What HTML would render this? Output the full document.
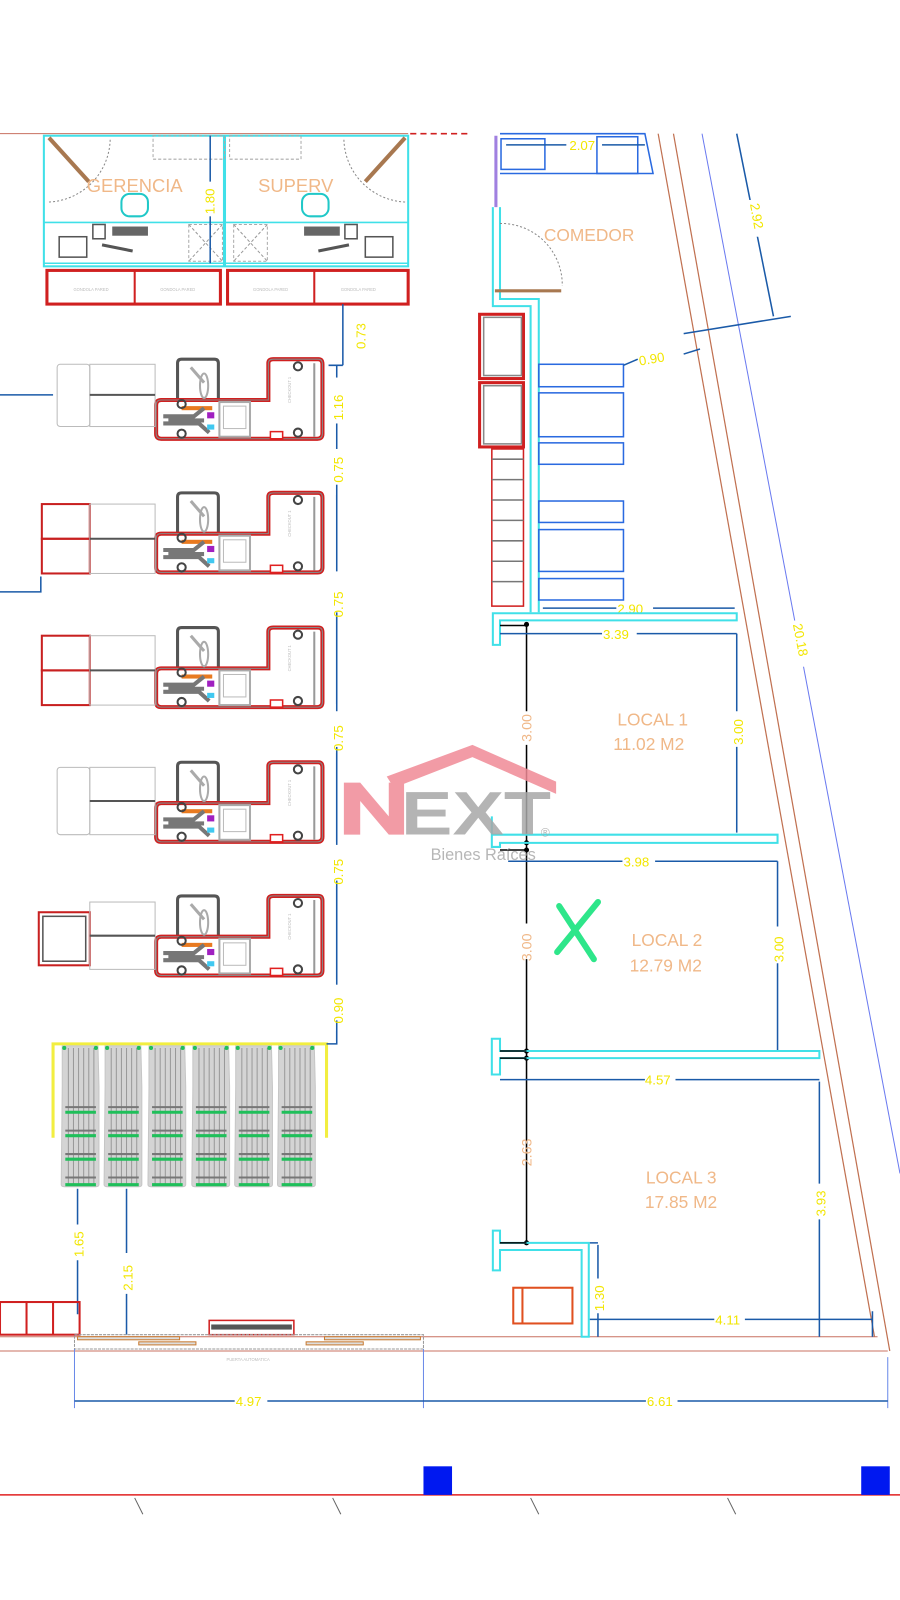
<!DOCTYPE html>
<html><head><meta charset="utf-8"><style>
html,body{margin:0;padding:0;background:#fff;width:900px;height:1600px;overflow:hidden}
svg{display:block}
text{font-family:"Liberation Sans",sans-serif}
.d{fill:#f2e600;font-size:13px}
.o{fill:#f0b888}
.tiny{fill:#bbb;font-size:4px}
</style></head><body>
<svg width="900" height="1600" viewBox="0 0 900 1600" xmlns="http://www.w3.org/2000/svg">
<defs>
<g id="chk">
  <path d="M174 392 V356 Q174 352 178 352 H210 Q214 352 214 356 V392" fill="none" stroke="#555" stroke-width="3"/>
  <path d="M263 392 V356 Q263 352 268 352 H312 Q316 352 316 357 V425 Q316 430 311 430 H158 Q153 430 153 425 V397 Q153 392 158 392 Z" fill="none" stroke="#d02020" stroke-width="4"/>
  <path d="M263 392 V356 Q263 352 268 352 H312 Q316 352 316 357 V425 Q316 430 311 430 H158 Q153 430 153 425 V397 Q153 392 158 392 Z" fill="none" stroke="#888" stroke-width="1"/>
  <line x1="187" y1="360" x2="200" y2="375" stroke="#aaa" stroke-width="3"/>
  <ellipse cx="200" cy="378" rx="4" ry="12" fill="none" stroke="#aaa" stroke-width="2"/>
  <rect x="178" y="398" width="30" height="4" fill="#e87a20"/>
  <path d="M160 408 H190 L200 400 M160 415 H195 L205 424 M165 412 H200" stroke="#777" stroke-width="4" fill="none"/>
  <rect x="203" y="404" width="7" height="6" fill="#a020c0"/>
  <rect x="203" y="416" width="7" height="5" fill="#40c8f0"/>
  <rect x="215" y="394" width="30" height="34" fill="none" stroke="#aaa" stroke-width="2"/>
  <rect x="219" y="398" width="22" height="22" fill="none" stroke="#bbb" stroke-width="1"/>
  <rect x="265" y="423" width="12" height="7" fill="#fff" stroke="#e02020" stroke-width="1.5"/>
  <circle cx="178" cy="396" r="4" fill="none" stroke="#444" stroke-width="2"/>
  <circle cx="178" cy="425" r="4" fill="none" stroke="#444" stroke-width="2"/>
  <circle cx="292" cy="359" r="4" fill="none" stroke="#444" stroke-width="2"/>
  <circle cx="292" cy="424" r="4" fill="none" stroke="#444" stroke-width="2"/>
  <line x1="308" y1="356" x2="308" y2="428" stroke="#999" stroke-width="2"/>
  <text x="0" y="0" class="tiny" transform="translate(285,395) rotate(-90)">CHECKOUT 1</text>
</g>
<g id="cart">
  <path d="M0 0 H35 L36 40 L36 136 Q36 138 33 138 H2 Q-1 138 -1 136 L0 40Z" fill="#d4d4d4" stroke="#c6c6c6"/>
  <path d="M6 2 V135 M11 2 V135 M16 2 V135 M21 2 V135 M26 2 V135 M31 2 V135" stroke="#999" stroke-width="1"/>
  <path d="M3 60 H33 M3 83 H33 M3 106 H33 M3 129 H33" stroke="#777" stroke-width="2"/>
  <path d="M3 65 H33 M3 88 H33 M3 111 H33 M3 136 H33" stroke="#1fbf5a" stroke-width="3"/>
  <circle cx="2" cy="2" r="2" fill="#1fbf5a"/><circle cx="33" cy="2" r="2" fill="#1fbf5a"/>
</g>
</defs>
<g transform="scale(1.0204)">
<line x1="0" y1="131" x2="400" y2="131" stroke="#c87060" stroke-width="1"/>
<line x1="402" y1="131" x2="462" y2="131" stroke="#d02020" stroke-width="1.5" stroke-dasharray="6,4"/>
<rect x="43" y="133" width="357" height="128" fill="none" stroke="#40e0e8" stroke-width="2"/>
<line x1="220" y1="133" x2="220" y2="261" stroke="#40e0e8" stroke-width="3"/>
<line x1="43" y1="218" x2="400" y2="218" stroke="#40e0e8" stroke-width="1.5"/>
<line x1="43" y1="258" x2="400" y2="258" stroke="#40e0e8" stroke-width="1.5"/>
<rect x="150" y="133" width="70" height="23" fill="none" stroke="#aaa" stroke-dasharray="3,2"/>
<rect x="225" y="133" width="70" height="23" fill="none" stroke="#aaa" stroke-dasharray="3,2"/>
<path d="M48 135 L87 178" stroke="#a87850" stroke-width="4"/>
<path d="M48 198 A63 63 0 0 0 108 135" fill="none" stroke="#888" stroke-dasharray="2,2"/>
<path d="M397 135 L358 178" stroke="#a87850" stroke-width="4"/>
<path d="M397 198 A63 63 0 0 1 337 135" fill="none" stroke="#888" stroke-dasharray="2,2"/>
<text x="85" y="188" class="o" font-size="18">GERENCIA</text>
<text x="253" y="188" class="o" font-size="18">SUPERV</text>
<rect x="119" y="190" width="26" height="22" rx="8" fill="none" stroke="#20c8c8" stroke-width="2"/>
<rect x="296" y="190" width="26" height="22" rx="8" fill="none" stroke="#20c8c8" stroke-width="2"/>
<rect x="91" y="220" width="12" height="14" fill="none" stroke="#555" stroke-width="1.5"/>
<rect x="110" y="222" width="35" height="9" fill="#666"/>
<rect x="58" y="232" width="27" height="20" fill="none" stroke="#555" stroke-width="1.5"/>
<rect x="338" y="220" width="12" height="14" fill="none" stroke="#555" stroke-width="1.5"/>
<rect x="298" y="222" width="35" height="9" fill="#666"/>
<rect x="358" y="232" width="27" height="20" fill="none" stroke="#555" stroke-width="1.5"/>
<path d="M100 240 L130 246 M312 246 L342 240" stroke="#555" stroke-width="3"/>
<path d="M185 220 L218 256 M218 220 L185 256 M229 220 L262 256 M262 220 L229 256" stroke="#999" stroke-dasharray="3,2"/>
<rect x="185" y="220" width="33" height="36" fill="none" stroke="#aaa" stroke-dasharray="3,2"/>
<rect x="229" y="220" width="33" height="36" fill="none" stroke="#aaa" stroke-dasharray="3,2"/>
<line x1="206" y1="133" x2="206" y2="258" stroke="#1a5aa8" stroke-width="1.5"/>
<rect x="198" y="178" width="16" height="34" fill="#fff"/>
<text class="d" transform="translate(210,210) rotate(-90)" font-size="15">1.80</text>
<rect x="46" y="265" width="170" height="33" fill="none" stroke="#d02020" stroke-width="3"/>
<line x1="132" y1="265" x2="132" y2="298" stroke="#d02020" stroke-width="2"/>
<rect x="223" y="265" width="177" height="33" fill="none" stroke="#d02020" stroke-width="3"/>
<line x1="308" y1="265" x2="308" y2="298" stroke="#d02020" stroke-width="2"/>
<text x="72" y="285" class="tiny">GONDOLA PARED</text><text x="157" y="285" class="tiny">GONDOLA PARED</text>
<text x="248" y="285" class="tiny">GONDOLA PARED</text><text x="334" y="285" class="tiny">GONDOLA PARED</text>
<path d="M336 298 V358 M322 358 H336" stroke="#1a5aa8" stroke-width="1.5"/>
<text class="d" transform="translate(358,342) rotate(-90)" font-size="14">0.73</text>
<path d="M330 358 V1020" stroke="#1a5aa8" stroke-width="1.5"/>
<g fill="#fff">
<rect x="322" y="370" width="16" height="45"/><rect x="322" y="440" width="16" height="35"/>
<rect x="322" y="565" width="16" height="35"/><rect x="322" y="697" width="16" height="35"/>
<rect x="322" y="828" width="16" height="35"/><rect x="322" y="965" width="16" height="35"/>
<rect x="322" y="490" width="16" height="110"/>
</g>
<path d="M330 485 V560 M330 605 V690 M330 738 V825 M330 868 V960" stroke="#1a5aa8" stroke-width="1.5"/>
<text class="d" transform="translate(336,412) rotate(-90)" font-size="14">1.16</text>
<text class="d" transform="translate(336,473) rotate(-90)" font-size="14">0.75</text>
<text class="d" transform="translate(336,605) rotate(-90)" font-size="14">0.75</text>
<text class="d" transform="translate(336,736) rotate(-90)" font-size="14">0.75</text>
<text class="d" transform="translate(336,867) rotate(-90)" font-size="14">0.75</text>
<text class="d" transform="translate(336,1003) rotate(-90)" font-size="14">0.90</text>
<use href="#chk"/>
<use href="#chk" transform="translate(0,131)"/>
<use href="#chk" transform="translate(0,263)"/>
<use href="#chk" transform="translate(0,395)"/>
<use href="#chk" transform="translate(0,526)"/>
<rect x="56" y="357" width="32" height="61" rx="3" fill="none" stroke="#bbb"/>
<rect x="88" y="357" width="64" height="61" fill="none" stroke="#bbb"/><line x1="88" y1="387" x2="152" y2="387" stroke="#555" stroke-width="2"/>
<line x1="0" y1="387" x2="52" y2="387" stroke="#1a5aa8" stroke-width="1.5"/>
<rect x="41" y="494" width="47" height="34" fill="none" stroke="#c82020" stroke-width="2"/><rect x="41" y="528" width="47" height="34" fill="none" stroke="#c82020" stroke-width="2"/>
<rect x="88" y="494" width="64" height="68" fill="none" stroke="#bbb"/><line x1="88" y1="528" x2="152" y2="528" stroke="#555" stroke-width="2"/>
<path d="M0 580 H40 V565" stroke="#1a5aa8" stroke-width="1.5" fill="none"/>
<rect x="41" y="623" width="47" height="34" fill="none" stroke="#c82020" stroke-width="2"/><rect x="41" y="657" width="47" height="34" fill="none" stroke="#c82020" stroke-width="2"/>
<rect x="88" y="623" width="64" height="68" fill="none" stroke="#bbb"/><line x1="88" y1="657" x2="152" y2="657" stroke="#555" stroke-width="2"/>
<rect x="56" y="752" width="32" height="66" rx="3" fill="none" stroke="#bbb"/>
<rect x="88" y="752" width="64" height="66" fill="none" stroke="#bbb"/><line x1="88" y1="785" x2="152" y2="785" stroke="#555" stroke-width="2"/>
<rect x="38" y="894" width="50" height="52" fill="none" stroke="#c82020" stroke-width="2"/><rect x="42" y="898" width="42" height="44" fill="none" stroke="#555" stroke-width="1.5"/>
<rect x="88" y="884" width="64" height="66" fill="none" stroke="#bbb"/><line x1="88" y1="917" x2="152" y2="917" stroke="#555" stroke-width="2"/>
<path d="M52 1115 V1023 H320 V1115" fill="none" stroke="#f2ee40" stroke-width="3"/>
<path d="M320 1023 H330 V1010" stroke="#1a5aa8" stroke-width="1.5" fill="none"/>
<use href="#cart" transform="translate(61,1025)"/>
<use href="#cart" transform="translate(103,1025)"/>
<use href="#cart" transform="translate(146,1025)"/>
<use href="#cart" transform="translate(189,1025)"/>
<use href="#cart" transform="translate(231,1025)"/>
<use href="#cart" transform="translate(273,1025)"/>
<path d="M76 1165 V1200 M76 1235 V1288 M124 1165 V1228 M124 1268 V1308" stroke="#1a5aa8" stroke-width="1.5"/>
<text class="d" transform="translate(82,1232) rotate(-90)" font-size="14">1.65</text>
<text class="d" transform="translate(130,1265) rotate(-90)" font-size="14">2.15</text>
<rect x="0" y="1276" width="78" height="32" fill="none" stroke="#d02020" stroke-width="2"/>
<path d="M26 1276 V1308 M52 1276 V1308" stroke="#d02020" stroke-width="2"/>
<rect x="205" y="1294" width="83" height="14" fill="none" stroke="#d02020" stroke-width="1.5"/><rect x="207" y="1298" width="79" height="5" fill="#555"/>
<line x1="0" y1="1310" x2="860" y2="1310" stroke="#c87060"/>
<line x1="0" y1="1324" x2="870" y2="1324" stroke="#c87060"/>
<rect x="73" y="1308" width="342" height="14" fill="none" stroke="#999" stroke-dasharray="3,1"/>
<rect x="76" y="1310" width="100" height="3" fill="#ddd" stroke="#c87a30"/>
<rect x="136" y="1315" width="56" height="3" fill="#ddd" stroke="#c87a30"/>
<rect x="300" y="1315" width="56" height="3" fill="#ddd" stroke="#c87a30"/>
<rect x="318" y="1310" width="94" height="3" fill="#ddd" stroke="#c87a30"/>
<text x="222" y="1334" class="tiny">PUERTA AUTOMATICA</text>
<path d="M73 1322 V1380 M415 1322 V1380 M870 1330 V1380" stroke="#6a8ae8" stroke-width="1"/>
<path d="M73 1373 H230 M262 1373 H633 M664 1373 H870" stroke="#1a5aa8" stroke-width="1.5"/>
<text x="231" y="1378" class="d">4.97</text><text x="634" y="1378" class="d">6.61</text>
<line x1="0" y1="1465" x2="882" y2="1465" stroke="#e02020" stroke-width="1.5"/>
<rect x="415" y="1437" width="28" height="28" fill="#0018f0"/>
<rect x="844" y="1437" width="28" height="28" fill="#0018f0"/>
<path d="M132 1468 L140 1484 M326 1468 L334 1484 M520 1468 L528 1484 M713 1468 L721 1484" stroke="#666"/>
<path d="M645 131 L857 1310" stroke="#c07050" stroke-width="1.2"/>
<path d="M660 131 L872 1324" stroke="#c07050" stroke-width="1.2"/>
<path d="M688 131 L882 1150" stroke="#6a7af0" stroke-width="1"/>
<rect x="772" y="608" width="20" height="46" fill="#fff" transform="rotate(-11,782,631)"/>
<text class="d" transform="translate(777,612) rotate(79)" font-size="14">20.18</text>
<path d="M722 131 L758 310" stroke="#1a5aa8" stroke-width="1.5"/>
<rect x="728" y="196" width="18" height="36" fill="#fff"/>
<text class="d" transform="translate(735,200) rotate(80)" font-size="14">2.92</text>
<path d="M670 327 L775 310" stroke="#1a5aa8" stroke-width="1.5"/>
<path d="M490 131 H632 L640 170 H490" fill="none" stroke="#2a6ae0" stroke-width="1.5"/>
<rect x="491" y="136" width="43" height="30" fill="none" stroke="#2a6ae0" stroke-width="1.5"/>
<rect x="585" y="134" width="40" height="36" fill="none" stroke="#2a6ae0" stroke-width="1.5"/>
<path d="M496 142 H555 M590 142 H632" stroke="#1a5aa8" stroke-width="1.5"/>
<text x="558" y="147" class="d" font-size="14">2.07</text>
<line x1="486" y1="133" x2="486" y2="203" stroke="#a080e0" stroke-width="3"/>
<path d="M483 203 V300 H520 V600 M490 203 V293 H528 V600" fill="none" stroke="#40e0e8" stroke-width="2"/>
<path d="M485 285 H550" stroke="#a87850" stroke-width="3"/>
<path d="M490 219 A60 60 0 0 1 551 280" fill="none" stroke="#888" stroke-dasharray="2,2"/>
<text x="533" y="236" class="o" font-size="17">COMEDOR</text>
<rect x="470" y="308" width="43" height="63" fill="none" stroke="#d02020" stroke-width="3"/>
<rect x="474" y="311" width="37" height="57" fill="none" stroke="#888" stroke-width="1.5"/>
<rect x="470" y="375" width="43" height="63" fill="none" stroke="#d02020" stroke-width="3"/>
<rect x="474" y="378" width="37" height="57" fill="none" stroke="#888" stroke-width="1.5"/>
<rect x="482" y="440" width="31" height="154" fill="none" stroke="#d02020" stroke-width="1.5"/>
<path d="M482 450 H513 M482 470 H513 M482 490 H513 M482 510 H513 M482 530 H513 M482 550 H513 M482 570 H513" stroke="#777" stroke-width="1.5"/>
<g fill="none" stroke="#2a6ae0" stroke-width="1.5">
<rect x="528" y="357" width="83" height="22"/><rect x="528" y="385" width="83" height="43"/><rect x="528" y="434" width="83" height="21"/>
<rect x="528" y="491" width="83" height="21"/><rect x="528" y="519" width="83" height="41"/><rect x="528" y="567" width="83" height="21"/>
</g>
<path d="M625 352 L611 358 M670 347 L686 342" stroke="#1a5aa8" stroke-width="1.5"/>
<text x="626" y="356" class="d" font-size="14" transform="rotate(-10,640,352)">0.90</text>
<path d="M532 596 H604 M640 596 H720" stroke="#1a5aa8" stroke-width="1.5"/>
<text x="605" y="601" class="d" font-size="14">2.90</text>
<path d="M483 632 V601 H722 V608 H490 V632 Z" fill="none" stroke="#40e0e8" stroke-width="2"/>
<path d="M490 613 H516" stroke="#000" stroke-width="1.5"/>
<path d="M516 612 V697 M516 730 V905 M516 940 V1218" stroke="#000" stroke-width="1.5"/>
<circle cx="516" cy="612" r="2.5"/><circle cx="516" cy="833" r="2.5"/><circle cx="516" cy="826" r="2.5"/>
<circle cx="516" cy="1030" r="2.5"/><circle cx="516" cy="1037" r="2.5"/><circle cx="516" cy="1218" r="2.5"/>
<text class="o" transform="translate(521,727) rotate(-90)" font-size="14">3.00</text>
<text class="o" transform="translate(521,942) rotate(-90)" font-size="14">3.00</text>
<text class="o" transform="translate(521,1143) rotate(-90)" font-size="14">2.63</text>
<path d="M490 621 H590 M624 621 H722" stroke="#1a5aa8" stroke-width="1.5"/>
<text x="591" y="626" class="d">3.39</text>
<path d="M722 621 V697 M722 732 V816" stroke="#1a5aa8" stroke-width="1.5"/>
<text class="d" transform="translate(728,730) rotate(-90)" font-size="14">3.00</text>
<text x="605" y="711" class="o" font-size="17">LOCAL 1</text>
<text x="601" y="735" class="o" font-size="17">11.02 M2</text>
<path d="M482 800 V830 H490 V826 H762 V818 H482" fill="none" stroke="#40e0e8" stroke-width="2"/>
<path d="M490 833 H516" stroke="#000" stroke-width="1.5"/>
<path d="M498 844 H610 M642 844 H762" stroke="#1a5aa8" stroke-width="1.5"/>
<text x="611" y="849" class="d">3.98</text>
<path d="M762 844 V908 M762 944 V1030" stroke="#1a5aa8" stroke-width="1.5"/>
<text class="d" transform="translate(768,943) rotate(-90)" font-size="14">3.00</text>
<path d="M548 888 L582 940 M586 884 L546 933" stroke="#2ee68a" stroke-width="6" stroke-linecap="round"/>
<text x="619" y="927" class="o" font-size="17">LOCAL 2</text>
<text x="617" y="952" class="o" font-size="17">12.79 M2</text>
<path d="M482 1018 V1053 H490 V1037 H803 V1030 H490 V1018 Z" fill="none" stroke="#40e0e8" stroke-width="2"/>
<path d="M490 1030 H516 M490 1037 H516" stroke="#000" stroke-width="1.5"/>
<path d="M490 1058 H632 M662 1058 H803" stroke="#1a5aa8" stroke-width="1.5"/>
<text x="632" y="1063" class="d">4.57</text>
<path d="M803 1060 V1160 M803 1195 V1310" stroke="#1a5aa8" stroke-width="1.5"/>
<text class="d" transform="translate(809,1192) rotate(-90)" font-size="14">3.93</text>
<text x="633" y="1160" class="o" font-size="17">LOCAL 3</text>
<text x="632" y="1184" class="o" font-size="17">17.85 M2</text>
<path d="M483 1206 V1245 H490 V1225 H570 V1310 H577 V1218 H490 V1206 Z" fill="none" stroke="#40e0e8" stroke-width="2"/>
<path d="M490 1218 H516" stroke="#000" stroke-width="1.5"/>
<rect x="503" y="1262" width="58" height="35" fill="none" stroke="#e05020" stroke-width="2"/>
<line x1="512" y1="1262" x2="512" y2="1297" stroke="#e05020" stroke-width="2"/>
<path d="M578 1218 H586 M586 1220 V1253 M586 1287 V1310" stroke="#1a5aa8" stroke-width="1.5"/>
<text class="d" transform="translate(592,1285) rotate(-90)" font-size="14">1.30</text>
<path d="M578 1293 H700 M730 1293 H855 M855 1285 V1310" stroke="#1a5aa8" stroke-width="1.5"/>
<text x="701" y="1298" class="d">4.11</text>
<g opacity="0.85">
<path d="M379 761 L463 730 L545 766 L545 778 L463 742 L386 772Z" fill="#f08a96"/>
<path d="M337 818 V767 H353 L381 800 V767 H396 V818 H381 L353 785 V818Z" fill="#f08a96"/>
<text x="393" y="818" font-size="60" font-weight="bold" fill="#a8a8a8" textLength="147" lengthAdjust="spacingAndGlyphs">EXT</text>
<text x="530" y="820" font-size="12" fill="#aaa">®</text>
<text x="422" y="843" font-size="16" fill="#aaa">Bienes Raíces</text>
</g>
</g>
</svg>
</body></html>
